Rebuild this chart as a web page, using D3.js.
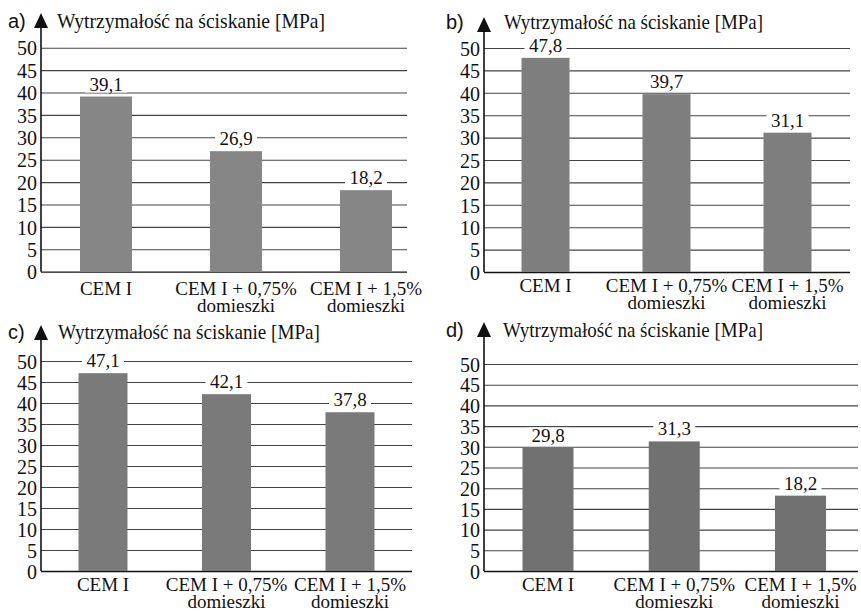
<!DOCTYPE html>
<html>
<head>
<meta charset="utf-8">
<script src="https://cdn.jsdelivr.net/npm/d3@7"></script>
<style>
  body { margin: 0; background: #fff; }
  svg { display: block; }
</style>
</head>
<body>
<div id="chart"></div>
<script>
// data
const categories = ["CEM I", "CEM I + 0,75% domieszki", "CEM I + 1,5% domieszki"];
const categoryLines = [["CEM I"], ["CEM I + 0,75%", "domieszki"], ["CEM I + 1,5%", "domieszki"]];
const valuesA = [39.1, 26.9, 18.2];
const valuesB = [47.8, 39.7, 31.1];
const valuesC = [47.1, 42.1, 37.8];
const valuesD = [29.8, 31.3, 18.2];
const yTicks = [0, 5, 10, 15, 20, 25, 30, 35, 40, 45, 50];
const panelLetters = ["a)", "b)", "c)", "d)"];
const yTitle = "Wytrzymałość na ściskanie [MPa]";

const SERIF = "'Liberation Serif', 'Times New Roman', Times, 'DejaVu Serif', serif";
const SANS = "'Liberation Sans', Arial, Helvetica, sans-serif";

// layout of the four panels (pixels)
const panels = [
  { letter: panelLetters[0], values: valuesA, axisX: 41, gridEnd: 407, y0: 271.7, y50: 47.7,
    first: 106, last: 366, barW: 52, titleY: 28, letterX: 8, titleX: 57, titleLen: 268,
    arrowTop: 13, labelDy: 23, color: "#868686" },
  { letter: panelLetters[1], values: valuesB, axisX: 484, gridEnd: 850, y0: 272, y50: 48,
    first: 545.5, last: 787.5, barW: 48, titleY: 29, letterX: 446, titleX: 504, titleLen: 259,
    arrowTop: 17, labelDy: 20, color: "#7e7e7e" },
  { letter: panelLetters[2], values: valuesC, axisX: 41, gridEnd: 412, y0: 571, y50: 361,
    first: 103, last: 350, barW: 49, titleY: 339, letterX: 8, titleX: 58, titleLen: 262,
    arrowTop: 325, labelDy: 20, color: "#7a7a7a" },
  { letter: panelLetters[3], values: valuesD, axisX: 484, gridEnd: 858, y0: 571, y50: 364,
    first: 548, last: 800.5, barW: 51, titleY: 337, letterX: 446, titleX: 503, titleLen: 260,
    arrowTop: 322, labelDy: 20, color: "#717171" }
];

const width = 861, height = 611;
const fmt = v => d3.format(".1f")(v).replace(".", ",");

const svg = d3.select("#chart").append("svg")
    .attr("width", width)
    .attr("height", height);

panels.forEach(p => {
    const g = svg.append("g");

    const y = d3.scaleLinear().domain([0, 50]).range([p.y0, p.y50]);
    const x = d3.scalePoint().domain(categories).range([p.first, p.last]);

    // gridlines + tick labels through a left axis
    const axis = g.append("g")
        .attr("transform", `translate(${p.axisX},0)`)
        .call(d3.axisLeft(y).tickValues(yTicks).tickSize(-(p.gridEnd - p.axisX)).tickPadding(4).tickFormat(d3.format("d")));
    axis.select(".domain").remove();
    axis.selectAll(".tick line")
        .attr("stroke", d => d === 0 ? "#111" : "#444")
        .attr("stroke-width", d => d === 0 ? 1.3 : 1.1);
    axis.selectAll(".tick text")
        .style("font-family", SERIF)
        .style("font-size", "20px")
        .attr("dy", "0.36em")
        .attr("fill", "#111");

    // bars
    g.selectAll(".bar")
        .data(p.values)
        .join("rect")
        .attr("class", "bar")
        .attr("x", (d, i) => x(categories[i]) - p.barW / 2)
        .attr("y", d => y(d))
        .attr("width", p.barW)
        .attr("height", d => y(0) - y(d))
        .attr("fill", p.color);

    // value labels with white background that breaks the gridline
    const lab = g.selectAll(".val")
        .data(p.values)
        .join("g")
        .attr("class", "val")
        .attr("transform", (d, i) => `translate(${x(categories[i])},${y(d) - 6})`);
    lab.append("rect")
        .attr("x", -21).attr("y", -14)
        .attr("width", 42).attr("height", 16)
        .attr("fill", "#fff");
    lab.append("text")
        .style("font-family", SERIF)
        .style("font-size", "19px")
        .attr("fill", "#111")
        .attr("text-anchor", "middle")
        .text(d => fmt(d));

    // y axis line with arrow
    g.append("line")
        .attr("x1", p.axisX).attr("x2", p.axisX)
        .attr("y1", p.arrowTop + 10).attr("y2", p.y0)
        .attr("stroke", "#111").attr("stroke-width", 1.6);
    g.append("path")
        .attr("d", `M${p.axisX},${p.arrowTop} L${p.axisX + 7},${p.arrowTop + 15} L${p.axisX - 7},${p.arrowTop + 15} Z`)
        .attr("fill", "#111");

    // titles
    g.append("text")
        .style("font-family", SANS)
        .style("font-size", "20px")
        .attr("fill", "#111")
        .attr("x", p.letterX).attr("y", p.titleY)
        .text(p.letter);
    g.append("text")
        .style("font-family", SERIF)
        .style("font-size", "21px")
        .attr("fill", "#111")
        .attr("x", p.titleX).attr("y", p.titleY)
        .attr("textLength", p.titleLen)
        .attr("lengthAdjust", "spacingAndGlyphs")
        .text(yTitle);

    // category labels
    const cat = g.selectAll(".cat")
        .data(categoryLines)
        .join("text")
        .attr("class", "cat")
        .style("font-family", SERIF)
        .style("font-size", "19px")
        .attr("fill", "#111")
        .attr("text-anchor", "middle")
        .attr("x", (d, i) => x(categories[i]))
        .attr("y", p.y0 + p.labelDy);
    cat.selectAll("tspan")
        .data(d => d)
        .join("tspan")
        .attr("x", function () { return d3.select(this.parentNode).attr("x"); })
        .attr("dy", (d, i) => i === 0 ? 0 : 17)
        .text(d => d);
});
</script>
</body>
</html>
